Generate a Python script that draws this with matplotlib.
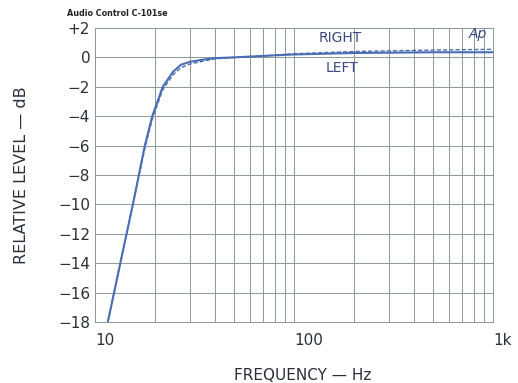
import matplotlib
matplotlib.use("Agg")
import matplotlib.pyplot as plt
from matplotlib.ticker import FixedLocator, NullFormatter

freq = [11.6, 13.4, 15.5, 17.8, 19.4, 21.9, 24.6, 27, 30, 35, 40, 50, 70, 100, 200, 500, 1000]
left = [-18, -14, -10, -6, -4, -2, -1, -0.5, -0.3, -0.15, -0.05, 0, 0.1, 0.2, 0.3, 0.35, 0.35]
right = [-18, -14, -10, -6.2, -4.2, -2.2, -1.2, -0.7, -0.45, -0.25, -0.1, 0, 0.1, 0.25, 0.4, 0.5, 0.55]

y_ticks = list(range(2, -19, -2))
y_labels = ['+2'] + ['0'] + ['\u2212' + str(-v) for v in y_ticks[2:]]
x_ticks = [10, 100, 1000]
x_labels = ['10', '100', '1k']

grid_col = '#8c9a94'
line_col = '#4a6db4'
text_col = '#2a2f3a'

fig = plt.figure(figsize=(5.18, 3.83), dpi=100)
ax = fig.add_axes([95 / 518, 1 - 322 / 383, (493 - 95) / 518, (322 - 28) / 383])

ax.plot(freq, left, color=line_col, lw=1.5)
ax.plot(freq, right, color=line_col, lw=1.0, ls=(0, (3, 1.5)))

ax.set_xscale('log')
ax.set_xlim(10, 1000)
ax.set_ylim(-18, 2)
ax.set_yticks(y_ticks)
ax.set_yticklabels(y_labels)
ax.set_xticks(x_ticks)
ax.set_xticklabels(x_labels)
minor = [m * d for d in (10, 100) for m in range(2, 10)]
ax.xaxis.set_minor_locator(FixedLocator(minor))
ax.xaxis.set_minor_formatter(NullFormatter())
ax.grid(True, which='both', color=grid_col, lw=0.7)
ax.tick_params(which='both', length=0, colors=text_col, labelsize=11)
ax.tick_params(axis='x', pad=8)
for lab in ax.get_xticklabels():
    lab.set_horizontalalignment('left')
for s in ax.spines.values():
    s.set_color(grid_col)
    s.set_linewidth(0.7)

ax.set_ylabel('RELATIVE LEVEL \u2014 dB', fontsize=11.5, color=text_col)
ax.yaxis.set_label_coords(-73 / 398, 0.5)
ax.set_xlabel('FREQUENCY \u2014 Hz', fontsize=11, color=text_col)
ax.xaxis.set_label_coords((303 - 95) / 398, -(376 - 322) / 294)
ax.xaxis.label.set_va('center')
ax.yaxis.label.set_va('center')

fig.text(67 / 518, 1 - 13 / 383, 'Audio Control C-101se', fontsize=5.8,
         fontweight='bold', color='#222222', va='center')
ax.text(170, 1.35, 'RIGHT', fontsize=10, color='#3a4a80', ha='center', va='center')
ax.text(175, -0.75, 'LEFT', fontsize=10, color='#3a4a80', ha='center', va='center')
ax.text(840, 1.6, 'Ap', fontsize=10, color='#3a4a80', ha='center', va='center',
        style='italic')

fig.savefig('out.png', dpi=100, facecolor='white')
